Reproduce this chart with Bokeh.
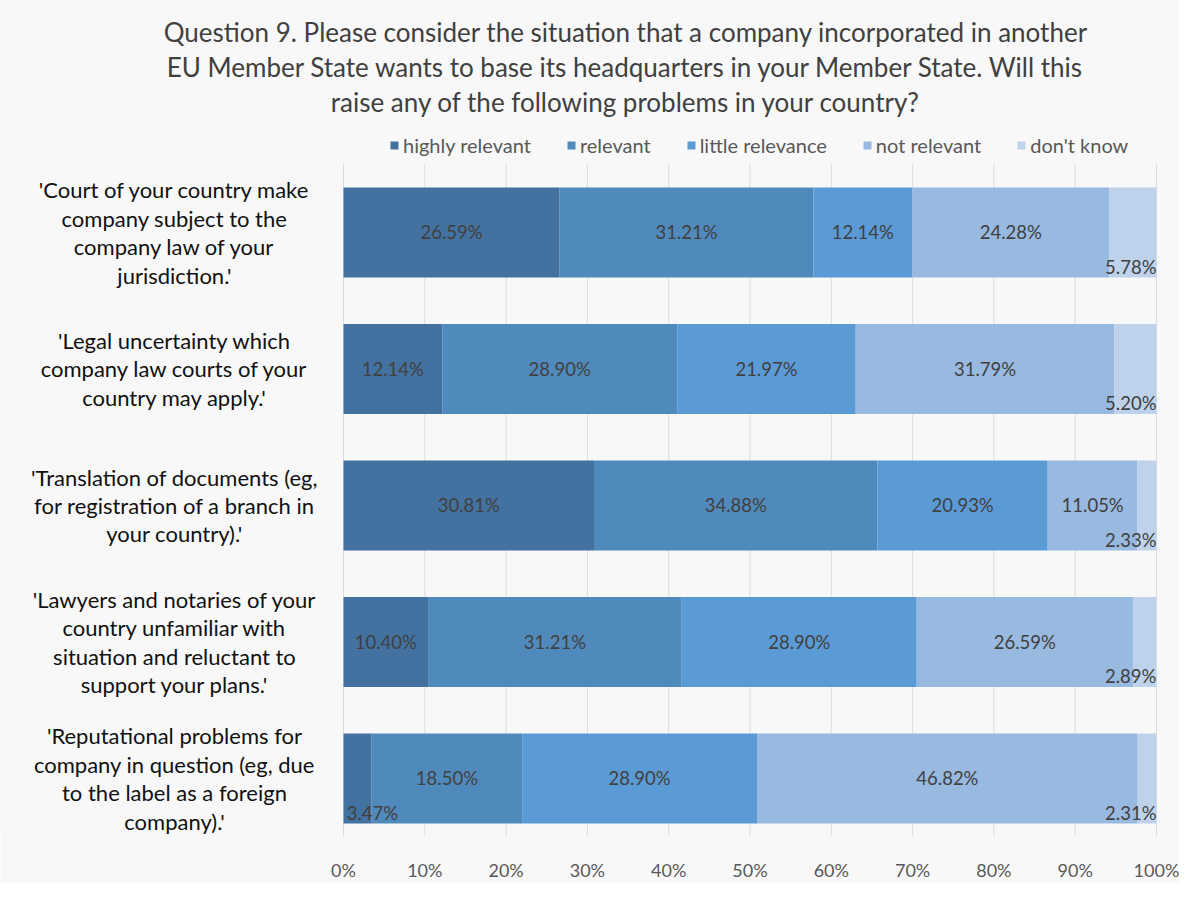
from bokeh.plotting import figure
from bokeh.models import ColumnDataSource, Range1d, FixedTicker, Legend, LegendItem
from bokeh.core.properties import value
from bokeh.embed import file_html
from bokeh.resources import INLINE

# ---------------- data ----------------
categories = [
    "'Court of your country make\ncompany subject to the\ncompany law of your\njurisdiction.'",
    "'Legal uncertainty which\ncompany law courts of your\ncountry may apply.'",
    "'Translation of documents (eg,\nfor registration of a branch in\nyour country).'",
    "'Lawyers and notaries of your\ncountry unfamiliar with\nsituation and reluctant to\nsupport your plans.'",
    "'Reputational problems for\ncompany in question (eg, due\nto the label as a foreign\ncompany).'",
]
series_names = ["highly relevant", "relevant", "little relevance", "not relevant", "don't know"]
highly_relevant = [26.59, 12.14, 30.81, 10.40, 3.47]
relevant = [31.21, 28.90, 34.88, 31.21, 18.50]
little_relevance = [12.14, 21.97, 20.93, 28.90, 28.90]
not_relevant = [24.28, 31.79, 11.05, 26.59, 46.82]
dont_know = [5.78, 5.20, 2.33, 2.89, 2.31]
tick_values = [0, 10, 20, 30, 40, 50, 60, 70, 80, 90, 100]
tick_labels = ["0%", "10%", "20%", "30%", "40%", "50%", "60%", "70%", "80%", "90%", "100%"]
title_text = ("Question 9. Please consider the situation that a company incorporated in another\n"
              "EU Member State wants to base its headquarters in your Member State. Will this\n"
              "raise any of the following problems in your country?")

colors = ["#4372a0", "#508abc", "#5b9bd5", "#98b9e0", "#bed2eb"]
FONT = "Lato"
BG = "#f8f8f8"

series = [highly_relevant, relevant, little_relevance, not_relevant, dont_know]
keys = ["hr", "rel", "lit", "nrel", "dk"]
ys = list(range(len(categories)))

W, H = 1179, 883
BOTTOM = 37
p = figure(width=W, height=H, output_backend="svg", toolbar_location=None,
           x_range=Range1d(-42.19, 102.83), y_range=Range1d(4.4176, -1.6996),
           min_border_left=0, min_border_right=0, min_border_top=0, min_border_bottom=BOTTOM,
           background_fill_color=BG, border_fill_color=BG, outline_line_color=None)
p.xgrid.visible = False
p.ygrid.visible = False
p.yaxis.visible = False

ax = p.xaxis[0]
ax.ticker = FixedTicker(ticks=tick_values)
ax.major_label_overrides = {t: l for t, l in zip(tick_values, tick_labels)}
ax.axis_line_color = None
ax.major_tick_line_color = None
ax.minor_tick_line_color = None
ax.major_label_text_font = FONT
ax.major_label_text_font_size = "18px"
ax.major_label_text_color = "#595959"
ax.major_label_standoff = 17

# gridlines within plot area
p.segment(x0=tick_values, x1=tick_values, y0=[-0.5] * len(tick_values), y1=[4.6] * len(tick_values),
          line_color="#dcdcdc", line_width=1)

# stacked bars
data = dict(y=ys)
for k, s in zip(keys, series):
    data[k] = s
src = ColumnDataSource(data)
renderers = p.hbar_stack(keys, y="y", height=0.66, color=colors, source=src, line_color=None)

# data labels
lx, ly, lt = [], [], []
sx_l, sy_l, st_l = [], [], []  # small first-series labels (left aligned)
sx_r, sy_r, st_r = [], [], []  # small last-series labels (right aligned)
for i in ys:
    left = 0.0
    for j, s in enumerate(series):
        v = s[i]
        txt = f"{v:.2f}%"
        if v < 8 and j == len(series) - 1:
            sx_r.append(left + v); sy_r.append(i + 0.33); st_r.append(txt)
        elif v < 8 and j == 0:
            sx_l.append(left + 0.4); sy_l.append(i + 0.33); st_l.append(txt)
        else:
            lx.append(left + v / 2); ly.append(i); lt.append(txt)
        left += v

lab_kw = dict(text_font=value(FONT), text_font_size="18.5px", text_color="#404040")
p.text(x=lx, y=ly, text=lt, text_align="center", text_baseline="middle", **lab_kw)
p.text(x=sx_l, y=sy_l, text=st_l, text_align="left", text_baseline="bottom", **lab_kw)
p.text(x=sx_r, y=sy_r, text=st_r, text_align="right", text_baseline="bottom", **lab_kw)

# category labels
p.text(x=[-20.79] * len(categories), y=ys, text=categories, text_align="center",
       text_baseline="middle", text_font=value(FONT), text_font_size="22px",
       text_color="#111111", text_line_height=1.05)

# title
p.text(x=[34.75], y=[-1.215], text=[title_text], text_align="center", text_baseline="middle",
       text_font=value(FONT), text_font_size="26px", text_color="#404040", text_line_height=1.09)

# legend
items = [LegendItem(label=n, renderers=[r]) for n, r in zip(series_names, renderers)]
legend = Legend(items=items, orientation="horizontal", location=(389, 678),
                glyph_width=10, glyph_height=10, label_standoff=4, spacing=35,
                padding=0, margin=0, background_fill_alpha=0, border_line_color=None,
                label_text_font=FONT, label_text_font_size="20px", label_text_color="#595959",
                label_height=20)
p.add_layout(legend)

open("out.html", "w").write(file_html(p, INLINE))
